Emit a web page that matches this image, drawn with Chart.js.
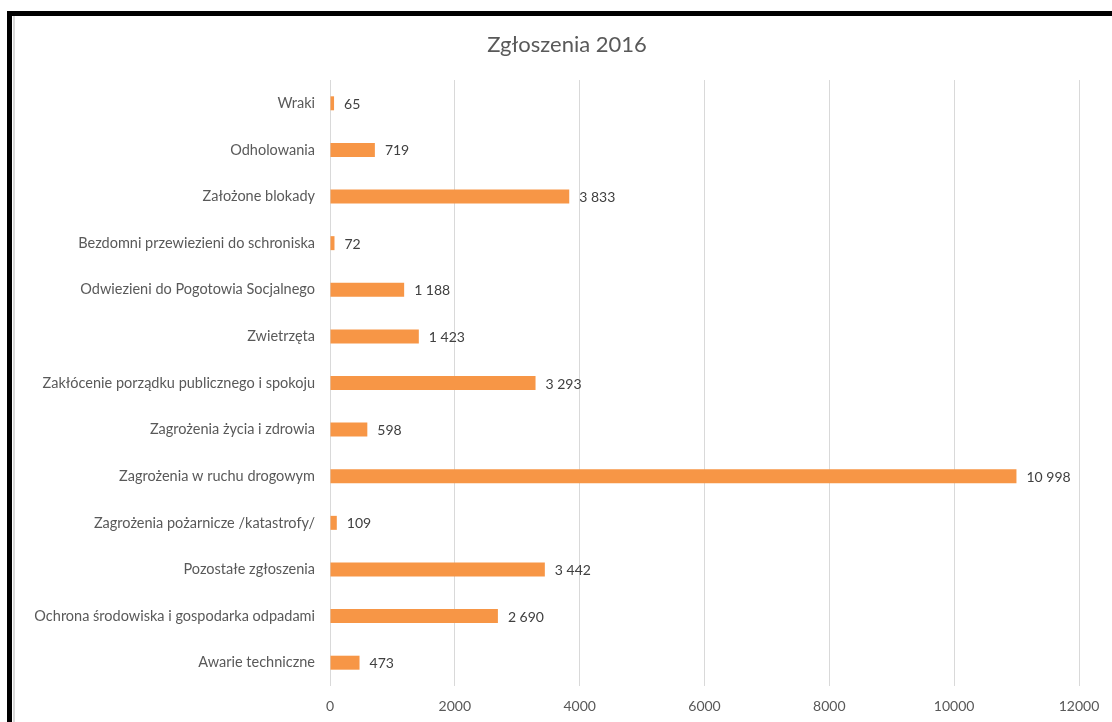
<!DOCTYPE html>
<html>
<head>
<meta charset="utf-8">
<script src="https://cdn.jsdelivr.net/npm/chart.js@4/dist/chart.umd.min.js"></script>
<style>
  body { margin: 0; background: white; }
  #wrap { position: relative; width: 1112px; height: 722px; overflow: hidden; }
  #topLine { position: absolute; left: 7px; top: 11px; width: 1105px; height: 5px; background: #000; }
  #leftLine { position: absolute; left: 7px; top: 11px; width: 5px; height: 711px; background: #000; }
  #leftGray { position: absolute; left: 13px; top: 16px; width: 2px; height: 706px; background: #d9d9d9; }
  canvas { position: absolute; left: 0; top: 0; }
</style>
</head>
<body>
<div id="wrap">
  <canvas id="myChart" width="1112" height="722"></canvas>
  <div id="topLine"></div>
  <div id="leftLine"></div>
  <div id="leftGray"></div>
</div>
<script>
// dane z wykresu
let chartTitle = 'Zgłoszenia 2016';
let categories = [
  'Wraki',
  'Odholowania',
  'Założone blokady',
  'Bezdomni przewiezieni do schroniska',
  'Odwiezieni do Pogotowia Socjalnego',
  'Zwietrzęta',
  'Zakłócenie porządku publicznego i spokoju',
  'Zagrożenia życia i zdrowia',
  'Zagrożenia w ruchu drogowym',
  'Zagrożenia pożarnicze /katastrofy/',
  'Pozostałe zgłoszenia',
  'Ochrona środowiska i gospodarka odpadami',
  'Awarie techniczne'
];
let values = [65, 719, 3833, 72, 1188, 1423, 3293, 598, 10998, 109, 3442, 2690, 473];
let xTicks = [0, 2000, 4000, 6000, 8000, 10000, 12000];

let fontName = 'Lato, "Liberation Sans", sans-serif';

function spaced(n) {
    return String(n).replace(/\B(?=(\d{3})+(?!\d))/g, ' ');
}

// etykiety wartosci obok slupkow + tytul (wysrodkowany jak w excelu)
const valueLabels = {
    id: 'valueLabels',
    afterDatasetsDraw(chart) {
        let ctx = chart.ctx;
        let meta = chart.getDatasetMeta(0);
        ctx.save();
        ctx.fillStyle = '#404040';
        ctx.font = '14px ' + fontName;
        ctx.textAlign = 'left';
        ctx.textBaseline = 'middle';
        meta.data.forEach(function (bar, i) {
            ctx.fillText(spaced(values[i]), bar.x + 10, bar.y + 1);
        });

        ctx.fillStyle = '#595959';
        ctx.font = '22px ' + fontName;
        ctx.textAlign = 'center';
        ctx.fillText(chartTitle, 567, 45);
        ctx.restore();
    }
};

const config = {
    type: 'bar',
    data: {
        labels: categories,
        datasets: [{
            data: values,
            backgroundColor: '#F79646',
            barPercentage: 0.3,
            categoryPercentage: 1
        }]
    },
    options: {
        indexAxis: 'y',
        responsive: false,
        animation: false,
        layout: { padding: { left: 0, right: 33, top: 80, bottom: 0 } },
        plugins: {
            legend: { display: false },
            tooltip: { enabled: false },
            title: { display: false }
        },
        scales: {
            x: {
                min: 0,
                max: 12000,
                afterBuildTicks: function (scale) {
                    scale.ticks = xTicks.map(function (v) { return { value: v }; });
                },
                afterFit: function (scale) { scale.height = 36; },
                grid: { color: '#d9d9d9', drawTicks: false },
                border: { display: false },
                ticks: {
                    color: '#595959',
                    padding: 12,
                    font: { family: fontName, size: 14 },
                    callback: function (v) { return v; }
                }
            },
            y: {
                afterFit: function (scale) { scale.width = 330; },
                grid: { display: false, drawTicks: false },
                border: { display: false },
                ticks: {
                    color: '#595959',
                    padding: 15,
                    font: { family: fontName, size: 14.5 }
                }
            }
        }
    },
    plugins: [valueLabels]
};

let myChart = new Chart(document.getElementById('myChart'), config);
</script>
</body>
</html>
